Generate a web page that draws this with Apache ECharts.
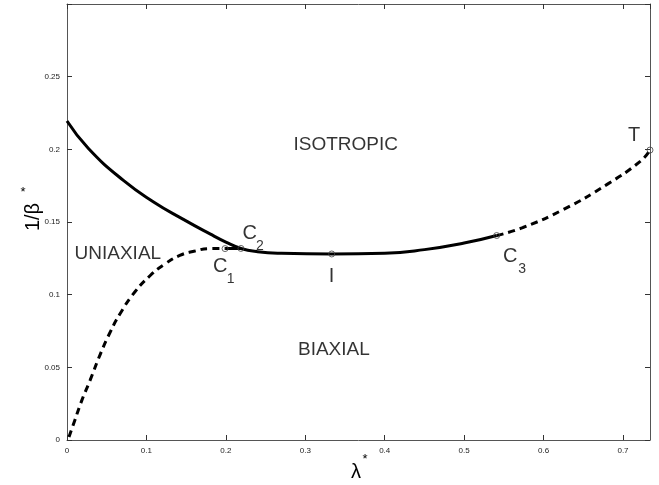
<!DOCTYPE html>
<html>
<head>
<meta charset="utf-8">
<script src="https://cdn.jsdelivr.net/npm/echarts@6/dist/echarts.min.js"></script>
<style>html,body{margin:0;padding:0;background:#fff}#c{width:659px;height:485px}</style>
</head>
<body>
<div id="c"></div>
<script>
// ---- data ----
const xTicks = [0, 0.1, 0.2, 0.3, 0.4, 0.5, 0.6, 0.7];
const yTicks = [0, 0.05, 0.1, 0.15, 0.2, 0.25];
// solid upper boundary: from lambda=0 through C2, I, to C3
const upperSolid = [[0, 0.2195], [0.027, 0.2006], [0.071, 0.1786], [0.109, 0.1638], [0.1465, 0.1518],
  [0.18, 0.1418], [0.20, 0.1362], [0.219, 0.1318], [0.24, 0.1296], [0.27, 0.1285], [0.3333, 0.128],
  [0.40, 0.1285], [0.45, 0.131], [0.50, 0.1355], [0.541, 0.1407]];
// dashed lower-left boundary from origin to C1
const leftDashed = [[0.0025, 0.002], [0.010, 0.0138], [0.0189, 0.0276], [0.029, 0.041], [0.0416, 0.0586],
  [0.054, 0.0738], [0.0668, 0.0869], [0.0856, 0.102], [0.1045, 0.113], [0.123, 0.121], [0.142, 0.127],
  [0.161, 0.130], [0.180, 0.1317], [0.199, 0.1317]];
// short solid segment C1 -> C2
const c1c2 = [[0.199, 0.1317], [0.219, 0.1318]];
// dashed right boundary C3 -> T
const rightDashed = [[0.541, 0.1407], [0.574, 0.1462], [0.625, 0.1586], [0.680, 0.1759], [0.7217, 0.1917], [0.734, 0.1995]];
// special points
const pointNames = ['C1', 'C2', 'I', 'C3', 'T'];
const pointValues = [[0.199, 0.1317], [0.219, 0.1318], [0.3333, 0.128], [0.541, 0.1407], [0.734, 0.1995]];
// annotations: [text, x, y, fontSize]
const annotations = [
  ['ISOTROPIC', 0.351, 0.2028, 19],
  ['UNIAXIAL', 0.064, 0.128, 19],
  ['BIAXIAL', 0.336, 0.062, 19],
  ['C', 0.193, 0.1193, 20], ['1', 0.206, 0.111, 14],
  ['C', 0.230, 0.1418, 20], ['2', 0.243, 0.1335, 14],
  ['I', 0.333, 0.1125, 20],
  ['C', 0.558, 0.1265, 20], ['3', 0.573, 0.1175, 14],
  ['T', 0.714, 0.2096, 20]
];

const X_MAX = 0.734, Y_MAX = 0.3;
const FONT = '"Liberation Sans", Arial, Helvetica, sans-serif';

const chart = echarts.init(document.getElementById('c'), null, {renderer: 'canvas'});

const axisBase = {
  axisLine: {show: true, onZero: false, lineStyle: {color: '#555', width: 1}},
  axisTick: {show: true, inside: true, length: 5, lineStyle: {color: '#333'}},
  splitLine: {show: false}
};
function fmt(v) { return String(parseFloat(v.toFixed(4))); }

const option = {
  animation: false,
  backgroundColor: '#fff',
  grid: {left: 67, right: 9, top: 4, bottom: 45, containLabel: false},
  xAxis: [
    Object.assign({}, axisBase, {
      type: 'value', min: 0, max: X_MAX, interval: 0.1, position: 'bottom',
      axisLabel: {show: true, margin: 7, fontSize: 8, color: '#222', fontFamily: FONT, showMaxLabel: false,
        formatter: v => (xTicks.some(t => Math.abs(t - v) < 1e-6) ? fmt(v) : '')}
    }),
    Object.assign({}, axisBase, {
      type: 'value', min: 0, max: X_MAX, interval: 0.1, position: 'top',
      axisLabel: {show: false}
    })
  ],
  yAxis: [
    Object.assign({}, axisBase, {
      type: 'value', min: 0, max: Y_MAX, interval: 0.05, position: 'left',
      axisLabel: {show: true, margin: 7, fontSize: 8, color: '#222', fontFamily: FONT,
        formatter: v => (yTicks.some(t => Math.abs(t - v) < 1e-6) ? fmt(v) : '')}
    }),
    Object.assign({}, axisBase, {
      type: 'value', min: 0, max: Y_MAX, interval: 0.05, position: 'right',
      axisLabel: {show: false}
    })
  ],
  series: [
    {type: 'line', data: upperSolid, smooth: 0.5, showSymbol: false, lineStyle: {color: '#000', width: 3}, z: 3},
    {type: 'line', data: leftDashed, smooth: 0.5, showSymbol: false, lineStyle: {color: '#000', width: 3, type: [7, 5]}, z: 3},
    {type: 'line', data: c1c2, showSymbol: false, lineStyle: {color: '#000', width: 3}, z: 3},
    {type: 'line', data: rightDashed, smooth: 0.5, showSymbol: false, lineStyle: {color: '#000', width: 3, type: [7, 5]}, z: 3},
    {type: 'scatter', data: pointValues.map((p, i) => ({name: pointNames[i], value: p})),
      symbol: 'circle', symbolSize: 6, itemStyle: {color: 'rgba(255,255,255,0)', borderColor: '#444', borderWidth: 1}, z: 5},
    {type: 'scatter', symbolSize: 0, silent: true, z: 6,
      data: annotations.map(a => ({value: [a[1], a[2]], name: a[0],
        label: {show: true, position: 'inside', formatter: a[0], fontSize: a[3], color: '#000', fontFamily: FONT}}))}
  ],
  graphic: [
    {type: 'text', x: 33, y: 217, rotation: Math.PI / 2, originX: 0, originY: 0,
      style: {text: '1/β', fontSize: 20, fontFamily: FONT, fill: '#000', align: 'center', verticalAlign: 'middle'}},
    {type: 'text', x: 23, y: 192, style: {text: '*', fontSize: 13, fontFamily: FONT, fill: '#000', align: 'center', verticalAlign: 'middle'}},
    {type: 'text', x: 356, y: 472, style: {text: 'λ', fontSize: 20, fontFamily: FONT, fill: '#000', align: 'center', verticalAlign: 'middle'}},
    {type: 'text', x: 365, y: 459, style: {text: '*', fontSize: 13, fontFamily: FONT, fill: '#000', align: 'center', verticalAlign: 'middle'}}
  ]
};
chart.setOption(option);
</script>
</body>
</html>
